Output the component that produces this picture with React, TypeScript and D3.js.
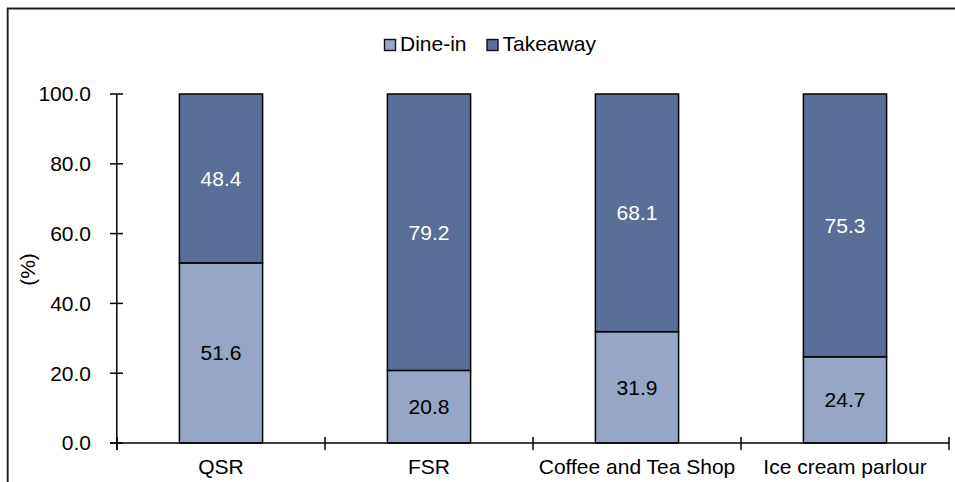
import React from "react";
import * as d3 from "d3";

const categories = ["QSR", "FSR", "Coffee and Tea Shop", "Ice cream parlour"];
const dineIn = [51.6, 20.8, 31.9, 24.7];
const takeaway = [48.4, 79.2, 68.1, 75.3];
const yTicks = [0, 20, 40, 60, 80, 100];
const seriesNames = ["Dine-in", "Takeaway"];

const W = 955;
const H = 482;
const FONT = "'Liberation Sans', Arial, sans-serif";
const FS = 21;
const COLORS = ["#97A6C4", "#5A6E98"];

export default function App() {
  const x = d3
    .scaleBand<string>()
    .domain(categories)
    .range([117, 949])
    .paddingInner(0.6)
    .paddingOuter(0.3);
  const y = d3.scaleLinear().domain([0, 100]).range([443, 94]);
  const step = x.step();
  const [x0, x1] = x.range();
  const boundaries = d3.range(categories.length + 1).map((i) => x0 + i * step);

  const stacks = categories.map((c, i) => {
    const a = dineIn[i];
    const b = takeaway[i];
    return [
      { key: "d", y0: 0, y1: a, v: a, fill: COLORS[0], text: "#000" },
      { key: "t", y0: a, y1: a + b, v: b, fill: COLORS[1], text: "#fff" },
    ];
  });

  return (
    <svg
      width={W}
      height={H}
      style={{ position: "absolute", left: 0, top: 0, background: "#fff" }}
      fontFamily={FONT}
      fontSize={FS}
    >
      {/* outer frame */}
      <path d={`M7.7 ${H} V8.5 H${W}`} fill="none" stroke="#1a1a1a" strokeWidth={1.8} />

      {/* legend */}
      <g>
        {seriesNames.map((n, i) => {
          const lx = i === 0 ? 384.5 : 487;
          return (
            <g key={n}>
              <rect x={lx} y={39.5} width={11} height={11} fill={COLORS[i]} stroke="#111" strokeWidth={1.4} />
              <text x={lx + 15.5} y={51} fill="#000">
                {n}
              </text>
            </g>
          );
        })}
      </g>

      {/* bars */}
      {stacks.map((segs, i) =>
        segs.map((s) => (
          <g key={categories[i] + s.key}>
            <rect
              x={x(categories[i])}
              y={y(s.y1)}
              width={x.bandwidth()}
              height={y(s.y0) - y(s.y1)}
              fill={s.fill}
              stroke="#000"
              strokeWidth={1.5}
            />
            <text
              x={(x(categories[i]) as number) + x.bandwidth() / 2}
              y={(y(s.y0) + y(s.y1)) / 2}
              dy="0.35em"
              textAnchor="middle"
              fill={s.text}
            >
              {s.v.toFixed(1)}
            </text>
          </g>
        ))
      )}

      {/* y axis */}
      <line x1={116.8} x2={116.8} y1={y(100)} y2={450} stroke="#000" strokeWidth={1.5} />
      {yTicks.map((t) => (
        <g key={t}>
          <line x1={110} x2={123} y1={y(t)} y2={y(t)} stroke="#000" strokeWidth={1.5} />
          <text x={91} y={y(t)} dy="0.35em" textAnchor="end" fill="#000">
            {t.toFixed(1)}
          </text>
        </g>
      ))}
      <text
        transform={`translate(28,${(y(0) + y(100)) / 2 + 1}) rotate(-90)`}
        textAnchor="middle"
        dy="0.35em"
        fill="#000"
      >
        (%)
      </text>

      {/* x axis */}
      <line x1={110} x2={x1} y1={y(0)} y2={y(0)} stroke="#000" strokeWidth={1.5} />
      {boundaries.map((b, i) => (
        <line key={i} x1={b} x2={b} y1={437} y2={450} stroke="#000" strokeWidth={1.5} />
      ))}
      {categories.map((c) => (
        <text
          key={c}
          x={(x(c) as number) + x.bandwidth() / 2}
          y={474}
          textAnchor="middle"
          fill="#000"
        >
          {c}
        </text>
      ))}
    </svg>
  );
}
